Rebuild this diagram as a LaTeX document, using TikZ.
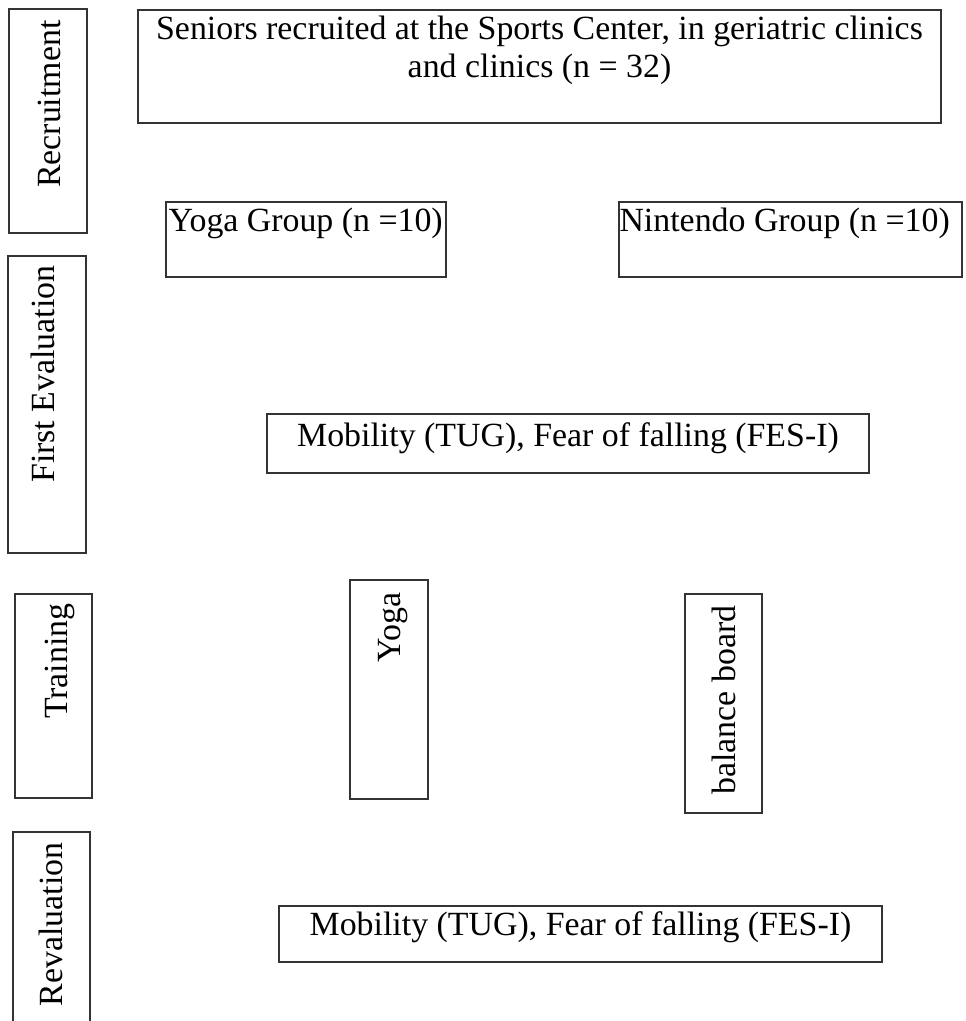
\documentclass[tikz,border=0pt]{standalone}
\usepackage{fontspec}
\setmainfont{Liberation Serif}
\begin{document}
\begin{tikzpicture}[x=0.384pt,y=-0.384pt,line cap=rect,
  frame/.style={draw=black!80,line width=0.4pt},
  txt/.style={inner sep=0pt,font=\fontsize{13}{14.6}\selectfont},
  vtxt/.style={txt,rotate=90,anchor=base east}]

\useasboundingbox (0,0) rectangle (965,1021);

% --- Fasi (colonna sinistra) ---
\draw[frame] (9,9) rectangle (87,233);
\node[vtxt] (recruit) at (60,20) {Recruitment};
\draw[frame] (8,256) rectangle (86,553);
\node[vtxt] (firsteval) at (55,265) {First Evaluation};
\draw[frame] (15,594) rectangle (92,798);
\node[vtxt] (training) at (67,603) {Training};
\draw[frame] (13,832) rectangle (90,1030);
\node[vtxt] (reval) at (62,842) {Revaluation};

% --- Reclutamento ---
\draw[frame] (138,10) rectangle (941,123);
\node[txt,anchor=base,align=center] (seniors) at (539.5,78)
  {Seniors recruited at the Sports Center, in geriatric clinics\\ and clinics (n = 32)};

% --- Gruppi ---
\draw[frame] (166,202) rectangle (446,277);
\node[txt,anchor=base west] (yogagrp) at (168,232) {Yoga Group (n =10)};
\draw[frame] (619,202) rectangle (962,277);
\node[txt,anchor=base west] (nintgrp) at (619,232) {Nintendo Group (n =10)};

% --- Prima valutazione ---
\draw[frame] (267,414) rectangle (869,473);
\node[txt,anchor=base] (eval1) at (568,446) {Mobility (TUG), Fear of falling (FES-I)};

% --- Allenamento ---
\draw[frame] (350,580) rectangle (428,799);
\node[vtxt] (yoga) at (400,592) {Yoga};
\draw[frame] (685,594) rectangle (762,813);
\node[vtxt] (board) at (735,605) {balance board};

% --- Rivalutazione ---
\draw[frame] (279,906) rectangle (882,962);
\node[txt,anchor=base] (eval2) at (580.5,935) {Mobility (TUG), Fear of falling (FES-I)};

\end{tikzpicture}
\end{document}
